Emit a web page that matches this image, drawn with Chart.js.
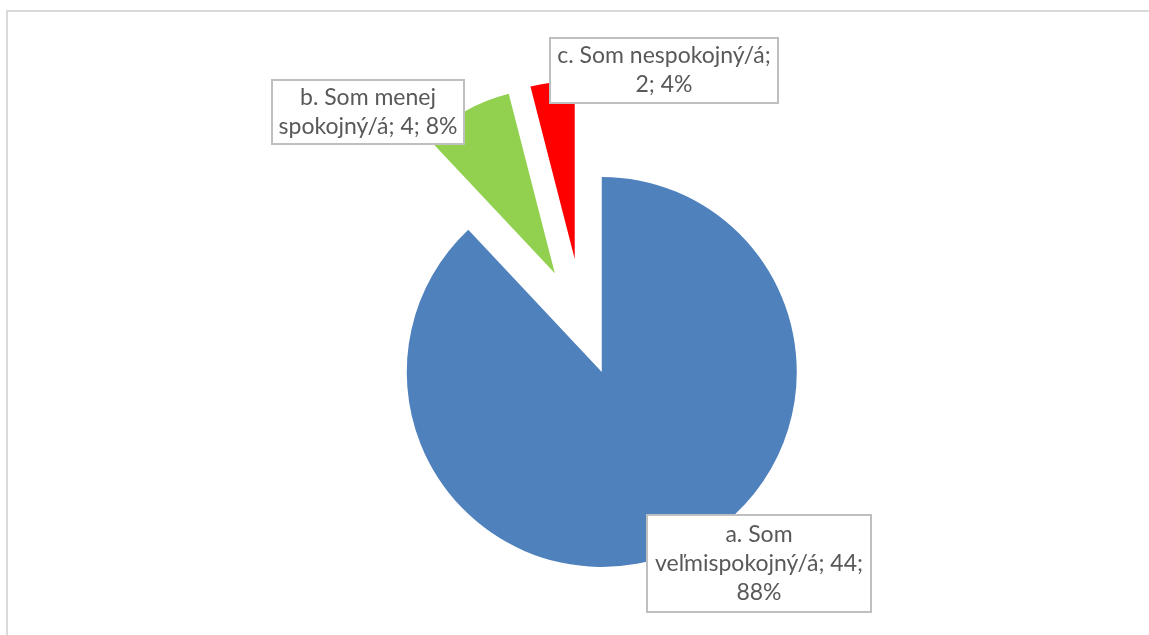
<!DOCTYPE html>
<html><head><meta charset="utf-8">
<script src="https://cdn.jsdelivr.net/npm/chart.js@4"></script>
<style>
html,body{margin:0;padding:0;background:#fff;overflow:hidden}
#wrap{position:relative;width:1149px;height:635px}
#frame{position:absolute;left:6px;top:10px;width:1200px;height:700px;border-left:2px solid #d9d9d9;border-top:2px solid #d9d9d9;box-sizing:border-box}
canvas{position:absolute;left:0;top:0}
</style></head><body>
<div id="wrap"><div id="frame"></div><canvas id="c" width="1149" height="635"></canvas></div>
<script>
// ---- data ----
const categories = ["a. Som veľmispokojný/á", "b. Som menej spokojný/á", "c. Som nespokojný/á"];
const counts = [44, 4, 2];

// ---- styles / layout ----
const sliceColors = ["#4f81bd", "#92d050", "#ff0000"];
const explodeDist = [51, 58.5, 66];        // px, along each slice's bisector
const radiusScale = [1, 0.95, 0.913];
const baseRadius = 195;
const labelBoxes = [ // [left, top, width, height, wrapWidth]
  [647, 515, 224, 97, 216],
  [272, 80, 192, 64, 186],
  [550, 38, 228, 65, 218]
];
const labelFont = '23px Lato';
const lineHeight = 29;

const total = counts.reduce((a, b) => a + b, 0);

const explodePlugin = {
  id: 'explode',
  afterDatasetsUpdate(chart) {
    const meta = chart.getDatasetMeta(0);
    meta.data.forEach((arc, i) => {
      const mid = (arc.startAngle + arc.endAngle) / 2;
      arc.x += Math.cos(mid) * explodeDist[i];
      arc.y += Math.sin(mid) * explodeDist[i];
      arc.outerRadius = baseRadius * radiusScale[i];
    });
  }
};

function wrap(ctx, text, maxW) {
  const words = text.split(' ');
  const lines = [];
  let cur = '';
  for (const w of words) {
    const t = cur ? cur + ' ' + w : w;
    if (cur && ctx.measureText(t).width > maxW) { lines.push(cur); cur = w; }
    else cur = t;
  }
  if (cur) lines.push(cur);
  return lines;
}

const labelPlugin = {
  id: 'boxLabels',
  afterDraw(chart) {
    const ctx = chart.ctx;
    ctx.save();
    ctx.font = labelFont;
    categories.forEach((cat, i) => {
      const pct = Math.round(counts[i] / total * 100);
      const text = cat + '; ' + counts[i] + '; ' + pct + '%';
      const [x, y, w, h, ww] = labelBoxes[i];
      ctx.fillStyle = '#ffffff';
      ctx.fillRect(x, y, w, h);
      ctx.strokeStyle = '#bfbfbf';
      ctx.lineWidth = 2;
      ctx.strokeRect(x, y, w, h);
      const lines = wrap(ctx, text, ww);
      ctx.fillStyle = '#595959';
      ctx.textAlign = 'center';
      ctx.textBaseline = 'middle';
      const cy = y + h / 2;
      lines.forEach((ln, k) => {
        ctx.fillText(ln, x + w / 2, cy + (k - (lines.length - 1) / 2) * lineHeight);
      });
    });
    ctx.restore();
  }
};

new Chart(document.getElementById('c'), {
  type: 'pie',
  data: {
    labels: categories,
    datasets: [{ data: counts, backgroundColor: sliceColors, borderWidth: 0, radius: baseRadius }]
  },
  options: {
    responsive: false,
    animation: false,
    events: [],
    radius: baseRadius,
    layout: { padding: { left: 17, right: 0, top: 14, bottom: 0 } },
    plugins: { legend: { display: false }, tooltip: { enabled: false } }
  },
  plugins: [explodePlugin, labelPlugin]
});
</script>
</body></html>
